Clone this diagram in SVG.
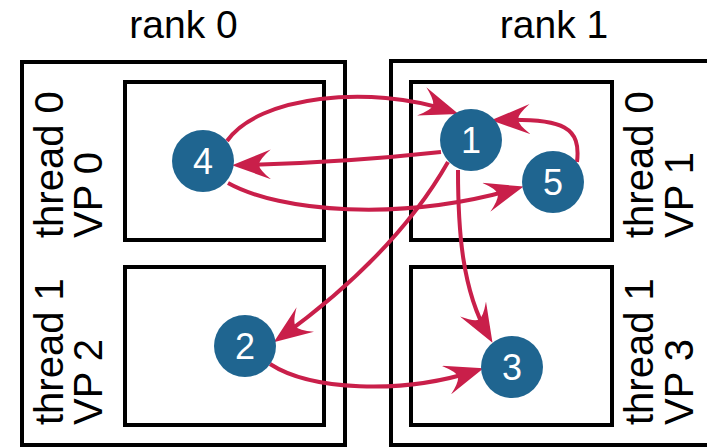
<svg xmlns="http://www.w3.org/2000/svg" width="707" height="448" viewBox="0 0 707 448">
  <style>
    .box { fill: none; stroke: #000; stroke-width: 4; }
    .lbl { font-family: "Liberation Sans", Arial, sans-serif; font-size: 40px; fill: #000; }
    .rank { font-family: "Liberation Sans", Arial, sans-serif; font-size: 39px; fill: #000; text-anchor: middle; }
    .vp { fill: #1f6590; }
    .num { font-family: "Liberation Sans", Arial, sans-serif; font-size: 36px; fill: #fff; text-anchor: middle; }
    .edge { fill: none; stroke: #c91f4a; stroke-width: 4; marker-end: url(#head); }
  </style>
  <defs>
    <marker id="head" viewBox="0 0 39 30" refX="30" refY="15" markerWidth="39" markerHeight="30" markerUnits="userSpaceOnUse" orient="auto">
      <path d="M39,15 L0,0 Q12,10 12,15 Q12,20 0,30 Z" fill="#c91f4a"/>
    </marker>
  </defs>
  <rect width="707" height="448" fill="#fff"/>

  <!-- rank 0 container with its two threads -->
  <g id="rank0">
    <text class="rank" x="183.5" y="38">rank 0</text>
    <rect class="box" x="22" y="62" width="323" height="383"/>
  </g>
  <g id="rank0-thread0">
    <rect class="box" x="125" y="82" width="199" height="158"/>
    <text class="lbl" transform="translate(63,238) rotate(-90)">thread 0</text>
    <text class="lbl" transform="translate(102,238) rotate(-90)">VP 0</text>
  </g>
  <g id="rank0-thread1">
    <rect class="box" x="125" y="267" width="199" height="158"/>
    <text class="lbl" transform="translate(63,425) rotate(-90)">thread 1</text>
    <text class="lbl" transform="translate(102,425) rotate(-90)">VP 2</text>
  </g>

  <!-- rank 1 container with its two threads -->
  <g id="rank1">
    <text class="rank" x="554" y="38">rank 1</text>
    <rect class="box" x="391" y="61" width="340" height="384"/>
  </g>
  <g id="rank1-thread0">
    <rect class="box" x="411" y="82" width="201" height="158"/>
    <text class="lbl" transform="translate(653,238) rotate(-90)">thread 0</text>
    <text class="lbl" transform="translate(693,238) rotate(-90)">VP 1</text>
  </g>
  <g id="rank1-thread1">
    <rect class="box" x="411" y="267" width="201" height="158"/>
    <text class="lbl" transform="translate(653,425) rotate(-90)">thread 1</text>
    <text class="lbl" transform="translate(693,425) rotate(-90)">VP 3</text>
  </g>

  <!-- messages between tasks -->
  <g id="connectors">
    <path class="edge" d="M227,141 C258,96 370,84 450,111"/>
    <path class="edge" d="M441,152 Q340,163 241,165"/>
    <path class="edge" d="M228,183 C280,212 400,222 515,189"/>
    <path class="edge" d="M577,162 C581,128 565,118 500,120"/>
    <path class="edge" d="M448,162 Q395,255 281,337"/>
    <path class="edge" d="M458,170 C458,230 462,290 488,335"/>
    <path class="edge" d="M270,364 C310,390 400,395 475,371"/>
  </g>

  <!-- tasks -->
  <g id="task1">
    <circle class="vp" cx="471" cy="140" r="31"/>
    <text class="num" x="471" y="153">1</text>
  </g>
  <g id="task2">
    <circle class="vp" cx="245" cy="346" r="31"/>
    <text class="num" x="245" y="359">2</text>
  </g>
  <g id="task3">
    <circle class="vp" cx="512" cy="367" r="31"/>
    <text class="num" x="512" y="380">3</text>
  </g>
  <g id="task4">
    <circle class="vp" cx="203" cy="161" r="31"/>
    <text class="num" x="203" y="174">4</text>
  </g>
  <g id="task5">
    <circle class="vp" cx="553" cy="182" r="31"/>
    <text class="num" x="553" y="195">5</text>
  </g>
</svg>
